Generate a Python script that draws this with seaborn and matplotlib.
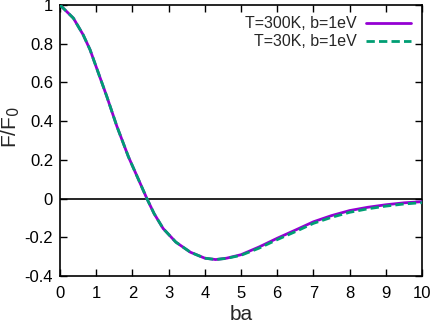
import pandas as pd
import numpy as np
import matplotlib.pyplot as plt
import seaborn as sns

# Values
ba = [0, 0.37, 0.64, 0.83, 1.01, 1.29, 1.57, 1.89, 2.2, 2.4, 2.6, 2.85, 3.2,
      3.6, 4.0, 4.3, 4.6, 5.0, 5.5, 6.0, 6.5, 7.0, 7.5, 8.0, 8.5, 9.0, 9.5, 10.0]
f_300k = [1.0, 0.932, 0.846, 0.769, 0.675, 0.529, 0.374, 0.216, 0.085, 0.0,
          -0.078, -0.155, -0.225, -0.277, -0.308, -0.315, -0.308, -0.29, -0.25,
          -0.205, -0.163, -0.12, -0.088, -0.062, -0.045, -0.032, -0.022, -0.016]
f_30k = [1.0, 0.932, 0.846, 0.769, 0.675, 0.529, 0.374, 0.216, 0.085, 0.0,
         -0.078, -0.155, -0.225, -0.277, -0.308, -0.315, -0.309, -0.293, -0.256,
         -0.212, -0.171, -0.128, -0.097, -0.071, -0.053, -0.039, -0.028, -0.021]
labels = ["T=300K, b=1eV", "T=30K, b=1eV"]
xticks = np.arange(0, 11, 1)
yticks = [-0.4, -0.2, 0, 0.2, 0.4, 0.6, 0.8, 1]
ytick_labels = ["-0.4", "-0.2", "0", "0.2", "0.4", "0.6", "0.8", "1"]

df = pd.DataFrame({
    "ba": ba * 2,
    "F": f_300k + f_30k,
    "series": [labels[0]] * len(ba) + [labels[1]] * len(ba),
})

sns.set_style("ticks")
plt.rcParams['font.family'] = ['Liberation Sans', 'DejaVu Sans']

fig = plt.figure(figsize=(4.36, 3.23), dpi=100)
ax = fig.add_axes([0.1376, 1 - 276 / 323, 0.968 - 0.1376, (276 - 5) / 323])

ax.axhline(0, color="black", lw=1.2, zorder=1)
sns.lineplot(data=df, x="ba", y="F", hue="series", style="series",
             palette=["#9400D3", "#009E73"], dashes=[(None, None), (3, 1.5)],
             linewidth=2, ax=ax, legend=True, zorder=3)

ax.set_xlim(0, 10)
ax.set_ylim(-0.4, 1)
ax.set_xticks(xticks)
ax.set_yticks(yticks)
ax.set_yticklabels(ytick_labels)
ax.tick_params(direction="in", length=5, width=1, top=True, right=True,
               labelsize=12, colors="black", pad=5)
ax.tick_params(axis="x", pad=7)
for s in ax.spines.values():
    s.set_linewidth(1.2)
    s.set_color("black")
ax.set_xlabel("ba", fontsize=15, labelpad=3)
ax.set_ylabel("F/F$_0$", fontsize=15, labelpad=2)
ax.yaxis.set_label_coords(-0.105, 0.55)

handles, lbls = ax.get_legend_handles_labels()
ax.legend(handles, lbls, loc="upper right", frameon=False, markerfirst=False,
          fontsize=11.5, handlelength=2.8, handletextpad=0.6, labelspacing=0.2,
          borderaxespad=0.3)

fig.savefig("out.png", dpi=100)
